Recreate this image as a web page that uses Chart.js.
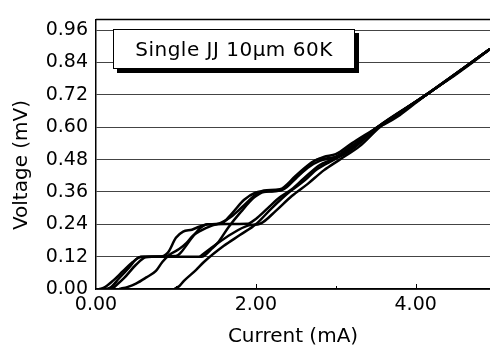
<!DOCTYPE html>
<html>
<head>
<meta charset="utf-8">
<script src="https://cdn.jsdelivr.net/npm/chart.js@4"></script>
<style>
  html, body { margin: 0; padding: 0; background: #fff; }
  #wrap { position: relative; width: 490px; height: 349px; overflow: hidden; }
  #legendBox {
    position: absolute; left: 113px; top: 29px; width: 240px; height: 38px;
    border: 1px solid #000; background: #fff; box-shadow: 4px 4px 0 #000;
    font: 20px "DejaVu Sans", sans-serif; letter-spacing: 0.5px; color: #000;
    line-height: 38px; text-align: center;
  }
</style>
</head>
<body>
<div id="wrap">
  <canvas id="chart" width="490" height="349"></canvas>
  <div id="legendBox">Single JJ 10μm 60K</div>
</div>
<script>
// I-V curves (current in mA, voltage in mV)
const curveACurrent = [0.04, 0.10, 0.21, 0.34, 0.46, 0.54, 0.60, 0.80, 0.90, 1.00, 1.09, 1.20, 1.30, 1.40, 1.56, 1.70, 1.85, 2.00, 2.10, 2.30, 2.45, 2.60, 2.75, 2.90, 3.00, 3.15, 3.35, 3.52, 3.60, 3.80, 4.13, 4.50, 4.71, 4.93];
const curveAVoltage = [0, 0.005, 0.03, 0.067, 0.10, 0.117, 0.12, 0.12, 0.135, 0.19, 0.213, 0.22, 0.232, 0.24, 0.242, 0.28, 0.33, 0.358, 0.362, 0.365, 0.40, 0.44, 0.478, 0.485, 0.49, 0.52, 0.56, 0.60, 0.61, 0.645, 0.72, 0.795, 0.84, 0.89];

const curveBCurrent = [0.12, 0.18, 0.29, 0.41, 0.50, 0.56, 1.00, 1.06, 1.20, 1.30, 1.40, 1.90, 2.00, 2.15, 2.30, 2.45, 2.60, 2.80, 2.95, 3.10, 3.30, 3.52, 4.13, 4.93];
const curveBVoltage = [0, 0.005, 0.04, 0.078, 0.11, 0.12, 0.122, 0.135, 0.19, 0.225, 0.24, 0.242, 0.26, 0.30, 0.34, 0.37, 0.41, 0.46, 0.48, 0.505, 0.545, 0.60, 0.72, 0.89];

const curveCCurrent = [0.29, 0.40, 0.50, 0.63, 0.75, 0.83, 0.92, 1.04, 1.13, 1.21, 1.30, 1.45, 1.56, 1.70, 1.85, 2.00, 2.10, 2.30, 2.50, 2.70, 2.85, 3.00, 3.20, 3.52, 4.13, 4.93];
const curveCVoltage = [0, 0.008, 0.02, 0.043, 0.067, 0.10, 0.127, 0.148, 0.17, 0.197, 0.215, 0.235, 0.245, 0.27, 0.31, 0.35, 0.365, 0.37, 0.42, 0.47, 0.49, 0.50, 0.54, 0.60, 0.72, 0.89];

const curveDCurrent = [0.20, 0.35, 0.50, 0.62, 0.70, 1.32, 1.45, 1.52, 1.66, 1.81, 1.98, 2.10, 2.20, 2.35, 2.50, 2.65, 2.80, 3.00, 3.20, 3.52, 4.13, 4.93];
const curveDVoltage = [0, 0.04, 0.09, 0.118, 0.12, 0.12, 0.15, 0.17, 0.23, 0.285, 0.34, 0.36, 0.362, 0.37, 0.41, 0.45, 0.475, 0.49, 0.53, 0.60, 0.72, 0.89];

const curveECurrent = [0.98, 1.04, 1.10, 1.25, 1.35, 1.60, 1.80, 2.00, 2.20, 2.40, 2.60, 2.77, 2.98, 3.19, 3.52, 4.13, 4.93];
const curveEVoltage = [0, 0.01, 0.03, 0.07, 0.10, 0.16, 0.20, 0.24, 0.30, 0.355, 0.40, 0.445, 0.48, 0.515, 0.597, 0.72, 0.89];

const curveFCurrent = [1.30, 1.50, 1.70, 1.90, 2.06, 2.25, 2.45, 2.65, 2.85, 3.05, 3.30, 3.55, 4.13, 4.93];
const curveFVoltage = [0.12, 0.165, 0.205, 0.235, 0.243, 0.29, 0.345, 0.39, 0.44, 0.48, 0.53, 0.60, 0.72, 0.89];

const xTickStep = 2;
const yTickStep = 0.12;
const minorTicks = [1, 2, 3, 4];
const yTitle = 'Voltage (mV)';

const FONT = '"DejaVu Sans", sans-serif';

function toPoints(xs, ys) {
  return xs.map((x, i) => ({ x: x, y: ys[i] }));
}

const curves = [
  [curveACurrent, curveAVoltage],
  [curveBCurrent, curveBVoltage],
  [curveCCurrent, curveCVoltage],
  [curveDCurrent, curveDVoltage],
  [curveECurrent, curveEVoltage],
  [curveFCurrent, curveFVoltage]
];

// top frame line, small inward ticks on the current axis, and the voltage title
// (the title sits a bit below the middle of the axis in the original)
const framePlugin = {
  id: 'frame',
  afterDraw(chart) {
    const ctx = chart.ctx;
    const area = chart.chartArea;
    const xs = chart.scales.x;
    ctx.save();
    ctx.strokeStyle = '#000';
    ctx.lineWidth = 1.5;
    ctx.beginPath();
    ctx.moveTo(area.left, area.top);
    ctx.lineTo(area.right, area.top);
    ctx.stroke();
    ctx.lineWidth = 1;
    minorTicks.forEach(v => {
      const px = Math.round(xs.getPixelForValue(v)) + 0.5;
      const len = (v % xTickStep === 0) ? 5 : 3;
      ctx.beginPath();
      ctx.moveTo(px, area.bottom);
      ctx.lineTo(px, area.bottom - len);
      ctx.stroke();
    });

    ctx.translate(22, 165);
    ctx.rotate(-Math.PI / 2);
    ctx.fillStyle = '#000';
    ctx.font = '20px ' + FONT;
    ctx.textAlign = 'center';
    ctx.textBaseline = 'middle';
    ctx.fillText(yTitle, 0, 0);
    ctx.restore();
  }
};

new Chart(document.getElementById('chart'), {
  type: 'line',
  data: {
    datasets: curves.map(c => ({
      data: toPoints(c[0], c[1]),
      borderColor: '#000',
      borderWidth: 2.5,
      pointRadius: 0,
      fill: false,
      cubicInterpolationMode: 'monotone'
    }))
  },
  options: {
    responsive: false,
    animation: false,
    layout: { padding: { top: 8, right: 0, left: 0, bottom: 0 } },
    plugins: { legend: { display: false }, tooltip: { enabled: false } },
    scales: {
      x: {
        type: 'linear',
        min: 0,
        max: 4.93,
        afterFit: s => { s.height = 60; },
        border: { color: '#000', width: 1.5 },
        grid: { display: false, drawTicks: false },
        ticks: {
          stepSize: xTickStep,
          includeBounds: false,
          padding: 5,
          color: '#000',
          font: { family: FONT, size: 19 },
          callback: v => v.toFixed(2),
          maxRotation: 0
        },
        title: {
          display: true,
          text: 'Current (mA)',
          color: '#000',
          font: { family: FONT, size: 20 },
          padding: { top: 0, bottom: 0 }
        }
      },
      y: {
        min: 0,
        max: 1.0,
        afterFit: s => { s.width = 96; },
        border: { color: '#000', width: 1.5 },
        grid: { color: '#444', lineWidth: 1, drawTicks: false, tickBorderDash: [] },
        ticks: {
          stepSize: yTickStep,
          includeBounds: false,
          padding: 8,
          color: '#000',
          font: { family: FONT, size: 19 },
          callback: v => v.toFixed(2)
        },
        title: { display: false }
      }
    }
  },
  plugins: [framePlugin]
});
</script>
</body>
</html>
